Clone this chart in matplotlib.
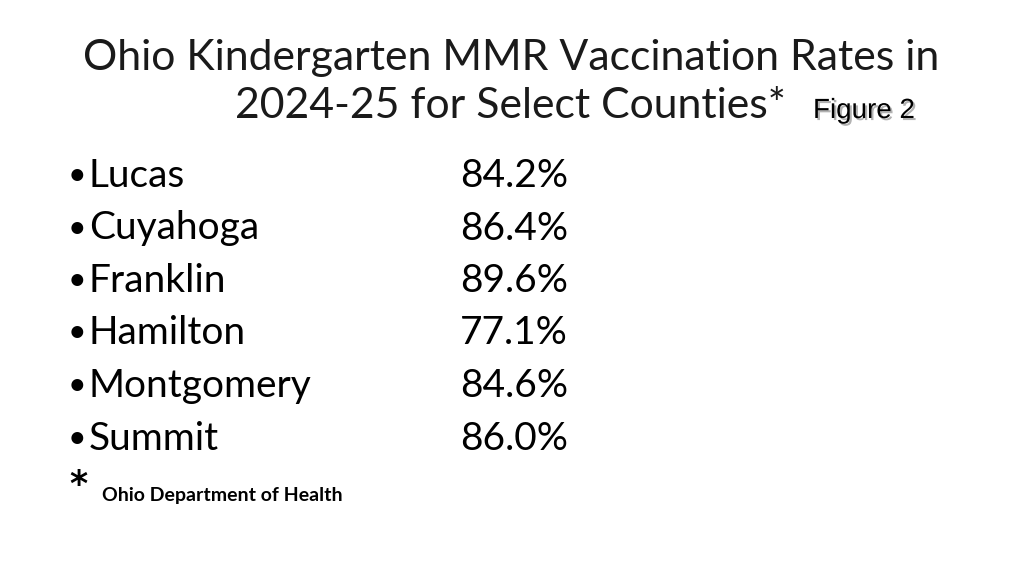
import matplotlib

matplotlib.use("Agg")
import matplotlib.pyplot as plt
import matplotlib.patheffects as pe

TITLE_1 = "Ohio Kindergarten MMR Vaccination Rates in"
TITLE_2 = "2024-25 for Select Counties*"
FIG_LABEL = "Figure 2"
COUNTIES = ["Lucas", "Cuyahoga", "Franklin", "Hamilton", "Montgomery", "Summit"]
RATES = [84.2, 86.4, 89.6, 77.1, 84.6, 86.0]
SOURCE = "Ohio Department of Health"

W, H = 1024, 578
fig = plt.figure(figsize=(W / 100, H / 100), dpi=100)
fig.patch.set_facecolor("white")


def px(x, y):
    # pixel coords (top-left origin) -> figure fraction
    return x / W, 1 - y / H


BODY = "Lato"

# 标题
fig.text(*px(511, 70), TITLE_1, ha="center", va="baseline", fontsize=30.8,
         family=BODY, color="#1a1a1a")
fig.text(*px(510, 118), TITLE_2, ha="center", va="baseline", fontsize=30.8,
         family=BODY, color="#1a1a1a")
fig.text(*px(813, 118), FIG_LABEL, ha="left", va="baseline", fontsize=20,
         family="Liberation Sans", color="black",
         path_effects=[pe.SimplePatchShadow(offset=(1.5, -1.5), alpha=0.3), pe.Normal()])

# 县 + 比率
y0, dy = 187, 52.5
for i, (c, r) in enumerate(zip(COUNTIES, RATES)):
    y = y0 + i * dy
    fig.text(*px(68, y - 2), "\u2022", ha="left", va="baseline", fontsize=23, family=BODY)
    fig.text(*px(89, y), c, ha="left", va="baseline", fontsize=28, family=BODY)
    fig.text(*px(460, y), f"{r:.1f}%", ha="left", va="baseline", fontsize=28, family=BODY)

# 来源
fig.text(*px(69, 495), "*", ha="left", va="baseline", fontsize=25, family="DejaVu Sans", weight="bold")
fig.text(*px(102, 501), SOURCE, ha="left", va="baseline", fontsize=14, family=BODY, weight="bold")

fig.savefig("out.png", dpi=100, facecolor="white")
